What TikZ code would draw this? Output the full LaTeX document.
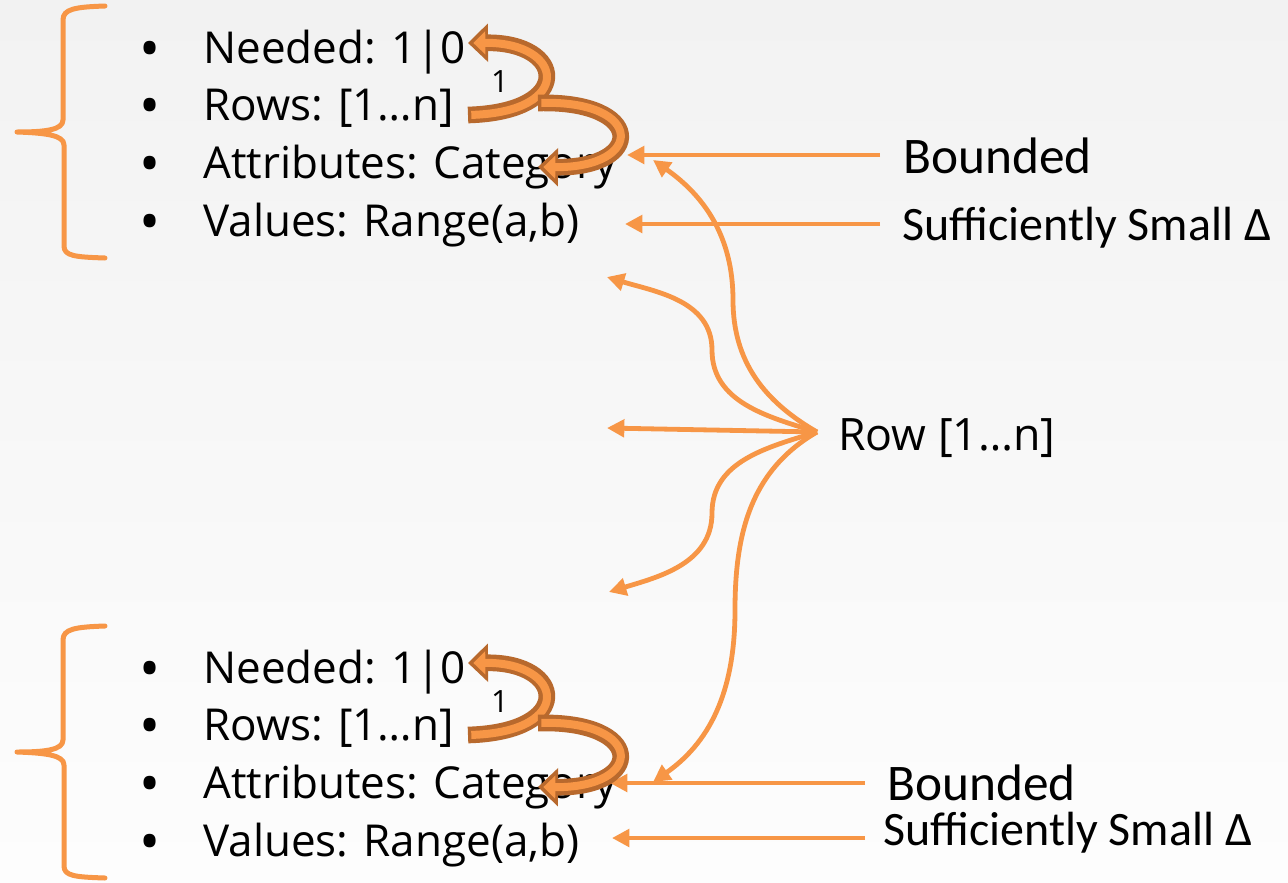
\documentclass[tikz,border=0pt]{standalone}
\usepackage{fontspec}
\setmainfont{Open Sans}
\newfontfamily\calib{Carlito}
\usetikzlibrary{arrows.meta}
\definecolor{accent}{HTML}{F79646}
\definecolor{accentdark}{HTML}{B8692D}
\definecolor{bgtop}{HTML}{F2F2F2}
\definecolor{bgbot}{HTML}{FDFDFD}
\tikzset{
item/.style={anchor=base west, inner sep=0pt, font=\fontsize{33}{40}\selectfont},
dot/.style={anchor=base, inner sep=0pt, font=\fontsize{42}{42}\selectfont},
lbl/.style={anchor=base west, inner sep=0pt, font=\calib\fontsize{36}{44}\selectfont},
feed/.style={draw=accent, line width=3.6pt, ->},
brace/.style={draw=accent, line width=3.75pt, line cap=round, line join=round},
hopout/.style={draw=accentdark, line width=12.5pt, -{Triangle[length=15pt,width=28pt]}},
hopin/.style={draw=accent, line width=6pt, shorten >=4pt, shorten <=2.5pt, -{Triangle[length=9pt,width=17pt]}}
}

\begin{document}
\begin{tikzpicture}[x=0.75pt,y=0.75pt,>={Triangle[length=13pt,width=13pt]}]
\shade[top color=bgtop,bottom color=bgbot] (0,0) rectangle (1288,-882);
\useasboundingbox (0,0) rectangle (1288,-882);

% fan out of the row
\node[lbl, font=\fontsize{33.5}{40}\selectfont] (row) at (838,-450) {Row [1…n]};
\coordinate (fan) at (817,-432);
\coordinate (r1) at (653,-160);
\coordinate (r2) at (607,-277);
\coordinate (r3) at (607,-428);
\coordinate (r4) at (609,-592);
\coordinate (r5) at (653,-782);
\draw[feed] (fan) to[out=150,in=-90] (733,-300) to[out=90,in=-35] (r1);
\draw[feed] (fan) to[out=163,in=-90] (712,-350) to[out=90,in=-17] (r2);
\draw[feed] (fan) -- (r3);
\draw[feed] (fan) to[out=-163,in=90] (712,-513) to[out=-90,in=17] (r4);
\draw[feed] (fan) to[out=-150,in=90] (735,-610) to[out=-90,in=35] (r5);

% the two lists
\foreach \g/\dy in {a/0,b/620}{
\begin{scope}[yshift=-\dy*0.75pt]
\draw[brace] (105,-6) .. controls (75,-7) and (63,-9) .. (63,-20) -- (63,-120)
  .. controls (63,-130) and (45,-132) .. (17,-132)
  .. controls (45,-133) and (64,-135) .. (64,-145) -- (64,-246)
  .. controls (64,-256) and (75,-257) .. (105,-258);
\node[dot] (d1-\g) at (150,-68) {•};
\node[dot] (d2-\g) at (150,-125) {•};
\node[dot] (d3-\g) at (150,-183) {•};
\node[dot] (d4-\g) at (150,-241) {•};
\node[item] (need-\g) at (203,-63) {Needed: 1|0};
\node[item] (rows-\g) at (203,-120) {Rows: [1…n]};
\node[item] (attr-\g) at (203,-178) {Attributes: Category};
\node[item] (vals-\g) at (203,-236) {Values: Range(a,b)};
\end{scope}
}

% bounded / small delta
\node[lbl, font=\calib\fontsize{38.5}{46}\selectfont] (bnd-a) at (903,-173) {Bounded};
\node[lbl] (dlt-a) at (902,-240) {Sufficiently Small Δ};
\node[lbl, font=\calib\fontsize{38.5}{46}\selectfont] (bnd-b) at (887,-800) {Bounded};
\node[lbl] (dlt-b) at (883,-845) {Sufficiently Small Δ};
\coordinate (bnd-a-s) at (880,-155);
\coordinate (bnd-a-t) at (627,-155);
\coordinate (dlt-a-s) at (880,-224);
\coordinate (dlt-a-t) at (625,-224);
\coordinate (bnd-b-s) at (865,-783);
\coordinate (bnd-b-t) at (610,-783);
\coordinate (dlt-b-s) at (865,-838);
\coordinate (dlt-b-t) at (612,-838);
\draw[feed] (bnd-a-s) -- (bnd-a-t);
\draw[feed] (dlt-a-s) -- (dlt-a-t);
\draw[feed] (bnd-b-s) -- (bnd-b-t);
\draw[feed] (dlt-b-s) -- (dlt-b-t);

% hops between the items
\foreach \g/\dy in {a/0,b/620}{
\begin{scope}[yshift=-\dy*0.75pt]
\coordinate (h1s-\g) at (468,-115);
\coordinate (h1t-\g) at (468,-43);
\coordinate (h2s-\g) at (538,-103);
\coordinate (h2t-\g) at (538,-167);
\draw[hopout] (h1s-\g) .. controls (575,-112) and (565,-42) .. (h1t-\g);
\draw[hopin] (h1s-\g) .. controls (575,-112) and (565,-42) .. (h1t-\g);
\draw[hopout] (h2s-\g) .. controls (645,-100) and (645,-168) .. (h2t-\g);
\draw[hopin] (h2s-\g) .. controls (645,-100) and (645,-168) .. (h2t-\g);
\node[font=\fontsize{23}{27}\selectfont] (one-\g) at (500,-82) {1};
\end{scope}
}
\end{tikzpicture}
\end{document}
